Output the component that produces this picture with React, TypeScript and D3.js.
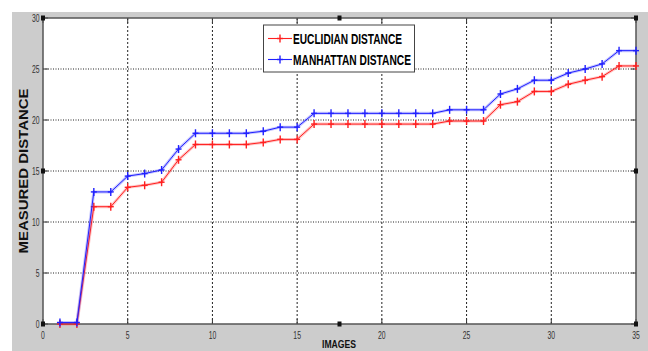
import React from 'react'
import * as d3 from 'd3'

const images = [1, 2, 3, 4, 5, 6, 7, 8, 9, 10, 11, 12, 13, 14, 15, 16, 17, 18, 19, 20, 21, 22, 23, 24, 25, 26, 27, 28, 29, 30, 31, 32, 33, 34, 35]
const euclidian = [
  0, 0, 11.5, 11.5, 13.4, 13.6, 13.9, 16.1, 17.6, 17.6, 17.6, 17.6, 17.8, 18.1, 18.1,
  19.6, 19.6, 19.6, 19.6, 19.6, 19.6, 19.6, 19.6,
  19.9, 19.9, 19.9,
  21.5, 21.8, 22.8, 22.8, 23.5, 23.9, 24.25, 25.3, 25.3,
]
const manhattan = [
  0.15, 0.15, 12.95, 12.95, 14.5, 14.75, 15.1, 17.15, 18.7, 18.7, 18.7, 18.7, 18.9, 19.3, 19.3,
  20.65, 20.65, 20.65, 20.65, 20.65, 20.65, 20.65, 20.65,
  21.0, 21.0, 21.0,
  22.55, 23.05, 23.9, 23.9, 24.6, 25.0, 25.5, 26.8, 26.8,
]
const xTicks = [0, 5, 10, 15, 20, 25, 30, 35]
const yTicks = [0, 5, 10, 15, 20, 25, 30]
const seriesNames = ['EUCLIDIAN DISTANCE', 'MANHATTAN DISTANCE']
const seriesColors = ['#ff2020', '#2020ff']

const W = 648
const H = 351
const plot = { left: 43, right: 636, top: 18, bottom: 324 }
const narrow = '"Liberation Sans Narrow", "Arial Narrow", "Liberation Sans", Arial, sans-serif'
const bold = '"Liberation Sans", Arial, sans-serif'

const App = () => {
  const x = d3.scaleLinear().domain([0, 35]).range([plot.left, plot.right])
  const y = d3.scaleLinear().domain([0, 30]).range([plot.bottom, plot.top])
  const series = [euclidian, manhattan]

  const line = d3
    .line<number>()
    .x((_, i) => x(images[i]))
    .y((d) => y(d))

  // MATLAB-ish selection handles round the axes
  const midX = (plot.left + plot.right) / 2
  const midY = (plot.top + plot.bottom) / 2
  const handles = [
    [plot.left, plot.top], [midX, plot.top], [plot.right, plot.top],
    [plot.left, midY], [plot.right, midY],
    [plot.left, plot.bottom], [midX, plot.bottom], [plot.right, plot.bottom],
  ]

  const plus = (cx: number, cy: number, color: string, key: string) => (
    <g key={key} stroke={color}>
      <line x1={cx} x2={cx} y1={cy - 4} y2={cy + 4} strokeWidth={1.4} />
      <line x1={cx - 3} x2={cx + 3} y1={cy} y2={cy} strokeWidth={1.4} />
    </g>
  )

  return (
    <svg width={W} height={H} style={{ position: 'absolute', left: 0, top: 0 }}>
      <rect x={0} y={0} width={W} height={H} fill='#fff' />
      <rect x={12} y={12} width={W - 12} height={H - 12} fill='#cccccc' />
      <rect x={plot.left} y={plot.top} width={plot.right - plot.left} height={plot.bottom - plot.top} fill='#fff' />

      {/* grid */}
      <g stroke='#222' strokeWidth={1}>
        {xTicks.slice(1, -1).map((t) => (
          <line key={'gx' + t} x1={x(t)} x2={x(t)} y1={plot.top} y2={plot.bottom} strokeDasharray='2,2' />
        ))}
        {yTicks.slice(1, -1).map((t) => (
          <line key={'gy' + t} x1={plot.left} x2={plot.right} y1={y(t)} y2={y(t)} strokeDasharray='1,1.5' />
        ))}
      </g>

      {/* ticks */}
      <g stroke='#333' strokeWidth={1}>
        {xTicks.map((t) => (
          <g key={'tx' + t}>
            <line x1={x(t)} x2={x(t)} y1={plot.bottom} y2={plot.bottom - 5} />
            <line x1={x(t)} x2={x(t)} y1={plot.top} y2={plot.top + 5} />
          </g>
        ))}
        {yTicks.map((t) => (
          <g key={'ty' + t}>
            <line x1={plot.left} x2={plot.left + 5} y1={y(t)} y2={y(t)} />
            <line x1={plot.right} x2={plot.right - 5} y1={y(t)} y2={y(t)} />
          </g>
        ))}
      </g>

      <rect x={plot.left} y={plot.top} width={plot.right - plot.left} height={plot.bottom - plot.top} fill='none' stroke='#555' strokeWidth={1.5} />

      {/* series */}
      {series.map((s, si) => (
        <g key={'s' + si}>
          <path d={line(s) || ''} fill='none' stroke={seriesColors[si]} strokeOpacity={0.25} strokeWidth={3} />
          <path d={line(s) || ''} fill='none' stroke={seriesColors[si]} strokeWidth={1} />
          {s.map((v, i) => plus(x(images[i]), y(v), seriesColors[si], `m${si}-${i}`))}
        </g>
      ))}

      {/* tick labels */}
      <g fontFamily={narrow} fontSize={11} fill='#333'>
        {xTicks.map((t) => (
          <text key={'lx' + t} x={x(t)} y={339} textAnchor='middle' textLength={String(t).length * 3.8} lengthAdjust='spacingAndGlyphs'>
            {t}
          </text>
        ))}
        {yTicks.map((t) => (
          <text key={'ly' + t} x={39.5} y={y(t) + 4} textAnchor='end' textLength={String(t).length * 3.8} lengthAdjust='spacingAndGlyphs'>
            {t}
          </text>
        ))}
      </g>

      {handles.map(([hx, hy], i) => (
        <rect key={'h' + i} x={hx - 2} y={hy - 2.5} width={4} height={5} fill='#111' />
      ))}

      {/* legend */}
      <g>
        <rect x={263.5} y={25} width={151} height={47} fill='#fff' stroke='#444' strokeWidth={1} />
        {seriesNames.map((name, i) => {
          const ly = 38.5 + i * 21
          return (
            <g key={'lg' + i}>
              <line x1={268} x2={292} y1={ly} y2={ly} stroke={seriesColors[i]} strokeWidth={1.1} />
              {plus(280, ly, seriesColors[i], 'lm' + i)}
              <text
                x={293}
                y={ly + 5.5}
                fontFamily={bold}
                fontWeight='bold'
                fontSize={15}
                fill='#000'
                textLength={i === 0 ? 109 : 118}
                lengthAdjust='spacingAndGlyphs'
              >
                {name}
              </text>
            </g>
          )
        })}
      </g>

      {/* axis titles */}
      <text
        transform={`translate(28, ${midY}) rotate(-90)`}
        textAnchor='middle'
        fontFamily={bold}
        fontWeight='bold'
        fontSize={13}
        fill='#111'
        textLength={165}
        lengthAdjust='spacingAndGlyphs'
      >
        MEASURED DISTANCE
      </text>
      <text
        x={339}
        y={347.5}
        textAnchor='middle'
        fontFamily={bold}
        fontWeight='bold'
        fontSize={11}
        fill='#111'
        textLength={34}
        lengthAdjust='spacingAndGlyphs'
      >
        IMAGES
      </text>
    </svg>
  )
}

export default App
